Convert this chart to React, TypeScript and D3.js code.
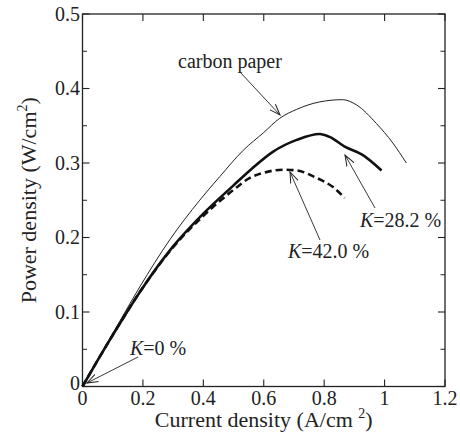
import React from "react";
import * as d3 from "d3";

const carbonX = [0, 0.05, 0.1, 0.19, 0.289, 0.388, 0.455, 0.532, 0.6, 0.653, 0.709, 0.785, 0.861, 0.907, 0.973, 1.027, 1.072];
const carbonY = [0, 0.036, 0.071, 0.134, 0.197, 0.25, 0.282, 0.317, 0.341, 0.36, 0.372, 0.382, 0.385, 0.378, 0.353, 0.327, 0.3];

const k28X = [0, 0.05, 0.1, 0.2, 0.3, 0.4, 0.5, 0.554, 0.63, 0.709, 0.785, 0.818, 0.868, 0.927, 0.99];
const k28Y = [0, 0.035, 0.069, 0.133, 0.188, 0.232, 0.27, 0.29, 0.315, 0.331, 0.339, 0.335, 0.322, 0.311, 0.29];

const k42X = [0, 0.05, 0.1, 0.2, 0.3, 0.4, 0.5, 0.554, 0.6, 0.669, 0.709, 0.775, 0.828, 0.868];
const k42Y = [0, 0.035, 0.069, 0.133, 0.187, 0.229, 0.264, 0.28, 0.287, 0.291, 0.29, 0.28, 0.268, 0.253];

const xTicks = [0, 0.2, 0.4, 0.6, 0.8, 1, 1.2];
const xTickLabels = ["0", "0.2", "0.4", "0.6", "0.8", "1", "1.2"];
const yTicks = [0, 0.1, 0.2, 0.3, 0.4, 0.5];
const yTickLabels = ["0", "0.1", "0.2", "0.3", "0.4", "0.5"];
const yMinor = [0.05, 0.15, 0.25, 0.35, 0.45];

export default function App() {
  const left = 82.5, right = 445, top = 14, bottom = 386.5;
  const x = d3.scaleLinear().domain([0, 1.2]).range([left, right]);
  const y = d3.scaleLinear().domain([0, 0.5]).range([bottom, top]);
  const line = (xs: number[], ys: number[]) =>
    d3.line<number>().x((_, i) => x(xs[i])).y((_, i) => y(ys[i])).curve(d3.curveMonotoneX)(xs as any) || "";
  const font = "'Liberation Serif', 'Times New Roman', serif";
  const majorLen = 7, minorLen = 4.5;

  const arrow = (x1: number, y1: number, x2: number, y2: number) => (
    <line x1={x1} y1={y1} x2={x2} y2={y2} stroke="#222" strokeWidth={0.9} markerEnd="url(#arr)" />
  );

  return (
    <svg width={460} height={444} style={{ position: "absolute", left: 0, top: 0, background: "#fff" }}>
      <defs>
        <marker id="arr" viewBox="0 0 12 10" refX="11" refY="5" markerWidth="12" markerHeight="10" markerUnits="userSpaceOnUse" orient="auto">
          <path d="M0,1 L11,5 L0,9" fill="none" stroke="#222" strokeWidth={1} />
        </marker>
      </defs>
      <rect x={left} y={top} width={right - left} height={bottom - top} fill="none" stroke="#222" strokeWidth={1.3} />
      {xTicks.map((t, i) => (
        <g key={"xt" + i}>
          <line x1={x(t)} x2={x(t)} y1={bottom} y2={bottom - majorLen} stroke="#222" strokeWidth={1.1} />
          <line x1={x(t)} x2={x(t)} y1={top} y2={top + majorLen} stroke="#222" strokeWidth={1.1} />
          <text x={x(t)} y={405} textAnchor="middle" fontFamily={font} fontSize={20} fill="#222">{xTickLabels[i]}</text>
        </g>
      ))}
      {yTicks.map((t, i) => (
        <g key={"yt" + i}>
          <line x1={left} x2={left + majorLen} y1={y(t)} y2={y(t)} stroke="#222" strokeWidth={1.1} />
          <line x1={right} x2={right - majorLen} y1={y(t)} y2={y(t)} stroke="#222" strokeWidth={1.1} />
          <text x={80} y={y(t) + 6.5 - (t === 0 ? 3 : 0)} textAnchor="end" fontFamily={font} fontSize={20} fill="#222">{yTickLabels[i]}</text>
        </g>
      ))}
      {yMinor.map((t, i) => (
        <g key={"ym" + i}>
          <line x1={left} x2={left + minorLen} y1={y(t)} y2={y(t)} stroke="#222" strokeWidth={1} />
          <line x1={right} x2={right - minorLen} y1={y(t)} y2={y(t)} stroke="#222" strokeWidth={1} />
        </g>
      ))}
      <path d={line(carbonX, carbonY)} fill="none" stroke="#222" strokeWidth={1} />
      <path d={line(k28X, k28Y)} fill="none" stroke="#111" strokeWidth={2.6} />
      <path d={line(k42X, k42Y)} fill="none" stroke="#111" strokeWidth={2.6} strokeDasharray="7,4" />

      <text x={178} y={68} fontFamily={font} fontSize={20} fill="#222">carbon paper</text>
      {arrow(240, 72, 280, 115)}
      <text x={360} y={227} fontFamily={font} fontSize={20} fill="#222"><tspan fontStyle="italic">K</tspan>=28.2 %</text>
      {arrow(375, 208, 345, 155)}
      <text x={288} y={258} fontFamily={font} fontSize={20} fill="#222"><tspan fontStyle="italic">K</tspan>=42.0 %</text>
      {arrow(320, 240, 290, 172)}
      <text x={130} y={355} fontFamily={font} fontSize={20} fill="#222"><tspan fontStyle="italic">K</tspan>=0 %</text>
      {arrow(138, 357, 87, 383)}

      <text x={x(0.6)} y={427} textAnchor="middle" fontFamily={font} fontSize={22} fill="#222">
        Current density (A/cm <tspan fontSize={14} dy={-9}>2</tspan><tspan dy={9}>)</tspan>
      </text>
      <text transform={`translate(36,${(top + bottom) / 2}) rotate(-90)`} textAnchor="middle" fontFamily={font} fontSize={22} fill="#222">
        Power density (W/cm<tspan fontSize={14} dy={-9}>2</tspan><tspan dy={9}>)</tspan>
      </text>
    </svg>
  );
}
